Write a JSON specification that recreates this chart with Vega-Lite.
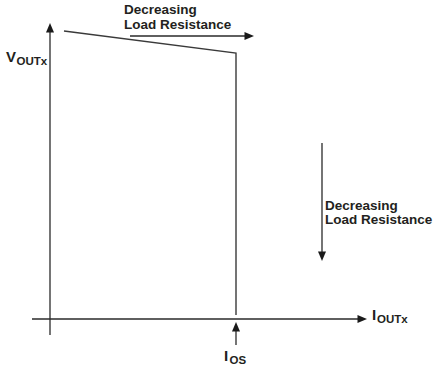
{
  "$schema": "https://vega.github.io/schema/vega-lite/v6.json",
  "width": 448,
  "height": 370,
  "padding": 0,
  "autosize": {"type": "none"},
  "background": "white",
  "config": {"view": {"stroke": null}},
  "datasets": {
    "curve": [
      {"i": 0, "x": 14, "y": 288},
      {"i": 1, "x": 186, "y": 266},
      {"i": 2, "x": 186, "y": 4}
    ],
    "segments": [
      {"x": 0, "y": -16, "x2": 0, "y2": 291},
      {"x": -18, "y": 0, "x2": 312, "y2": 0},
      {"x": 80, "y": 283, "x2": 199, "y2": 283},
      {"x": 272, "y": 176, "x2": 272, "y2": 63},
      {"x": 186, "y": -26, "x2": 186, "y2": -8}
    ],
    "heads": [
      {"x": 0, "y": 291, "dir": "up"},
      {"x": 312, "y": 0, "dir": "right"},
      {"x": 199, "y": 283, "dir": "right"},
      {"x": 272, "y": 63, "dir": "down"},
      {"x": 186, "y": -8, "dir": "up"}
    ],
    "notes": [
      {"x": 74, "y": 305.5, "t": "Decreasing"},
      {"x": 74, "y": 290.5, "t": "Load Resistance"},
      {"x": 275, "y": 109, "t": "Decreasing"},
      {"x": 275, "y": 95, "t": "Load Resistance"}
    ],
    "mains": [
      {"x": -44, "y": 257, "t": "V"},
      {"x": 322, "y": -1, "t": "I"},
      {"x": 174, "y": -42, "t": "I"}
    ],
    "subs": [
      {"x": -33.5, "y": 254, "t": "OUTx"},
      {"x": 327, "y": -4, "t": "OUTx"},
      {"x": 179.5, "y": -45, "t": "OS"}
    ]
  },
  "encoding": {
    "x": {"type": "quantitative", "scale": {"domain": [-50, 398], "nice": false, "zero": false}, "axis": null},
    "y": {"type": "quantitative", "scale": {"domain": [-51, 319], "nice": false, "zero": false}, "axis": null}
  },
  "layer": [
    {
      "data": {"name": "curve"},
      "mark": {"type": "line", "color": "#3a3a3a", "strokeWidth": 1.4},
      "encoding": {
        "x": {"field": "x", "type": "quantitative"},
        "y": {"field": "y", "type": "quantitative"},
        "order": {"field": "i", "type": "quantitative"}
      }
    },
    {
      "data": {"name": "segments"},
      "mark": {"type": "rule", "color": "#2a2a2a", "strokeWidth": 1.3},
      "encoding": {
        "x": {"field": "x", "type": "quantitative"},
        "y": {"field": "y", "type": "quantitative"},
        "x2": {"field": "x2"},
        "y2": {"field": "y2"}
      }
    },
    {
      "data": {"name": "heads"},
      "mark": {"type": "point", "filled": true, "color": "#1a1a1a", "opacity": 1, "size": 100, "strokeWidth": 0},
      "encoding": {
        "x": {"field": "x", "type": "quantitative"},
        "y": {"field": "y", "type": "quantitative"},
        "shape": {
          "field": "dir",
          "type": "nominal",
          "legend": null,
          "scale": {
            "domain": ["up", "right", "down"],
            "range": ["M0,-1L0.8,0.9L-0.8,0.9Z", "M1,0L-0.9,-0.8L-0.9,0.8Z", "M0,1L0.8,-0.9L-0.8,-0.9Z"]
          }
        }
      }
    },
    {
      "data": {"name": "notes"},
      "mark": {"type": "text", "align": "left", "baseline": "alphabetic", "font": "Liberation Sans", "fontWeight": "bold", "fontSize": 13.5, "color": "#231f20"},
      "encoding": {
        "x": {"field": "x", "type": "quantitative"},
        "y": {"field": "y", "type": "quantitative"},
        "text": {"field": "t"}
      }
    },
    {
      "data": {"name": "mains"},
      "mark": {"type": "text", "align": "left", "baseline": "alphabetic", "font": "Liberation Sans", "fontWeight": "bold", "fontSize": 15, "color": "#231f20"},
      "encoding": {
        "x": {"field": "x", "type": "quantitative"},
        "y": {"field": "y", "type": "quantitative"},
        "text": {"field": "t"}
      }
    },
    {
      "data": {"name": "subs"},
      "mark": {"type": "text", "align": "left", "baseline": "alphabetic", "font": "Liberation Sans", "fontWeight": "bold", "fontSize": 11.5, "color": "#231f20"},
      "encoding": {
        "x": {"field": "x", "type": "quantitative"},
        "y": {"field": "y", "type": "quantitative"},
        "text": {"field": "t"}
      }
    }
  ]
}
